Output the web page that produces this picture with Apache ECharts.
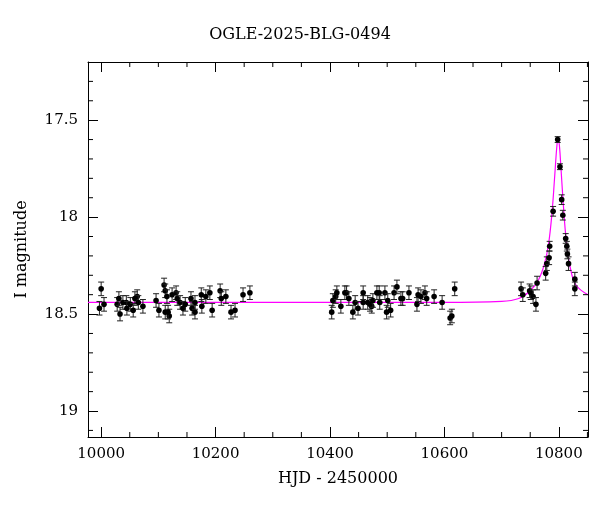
<!DOCTYPE html>
<html><head><meta charset="utf-8">
<script src="https://cdn.jsdelivr.net/npm/echarts@6/dist/echarts.min.js"></script>
<style>html,body{margin:0;background:#fff}#c{width:600px;height:512px}</style>
</head><body><div id="c"></div>
<script>
// observations: HJD-2450000, I mag, error
let obsT = [9997,10000,10005,10028,10031,10033,10038,10044,10045,10051,10056,10059,10063,10065,10073,
  10096,10101,10110,10112,10115,10112,10119,10117,10124,10131,10133,10138,10143,10147,10157,10159,10164,10164,
  10175,10176,10183,10190,10194,10208,10210,10218,10227,10234,10248,10260,
  10403,10405,10410,10412,10419,10426,10429,10433,10440,10444,10449,10458,10458,10466,10470,10473,10475,10482,
  10486,10487,10496,10499,10501,10506,10512,10517,10524,10527,10538,10552,10554,10559,10566,10569,10582,10596,
  10610,10613,10618,
  10734,10737,10749,10751,10755,10760,10762,10777,10779,10783,10784,10790,10798,10802,10805,10807,10812,10814,
  10815,10817,10828,10828]
let obsMag = [18.47,18.37,18.45,18.45,18.42,18.50,18.44,18.44,18.47,18.45,18.48,18.42,18.41,18.44,18.46,
  18.43,18.48,18.35,18.38,18.41,18.49,18.51,18.49,18.40,18.39,18.42,18.44,18.47,18.45,18.42,18.47,18.49,18.44,
  18.40,18.46,18.41,18.39,18.48,18.38,18.42,18.41,18.49,18.48,18.40,18.39,
  18.49,18.43,18.41,18.39,18.46,18.39,18.39,18.42,18.49,18.44,18.47,18.44,18.39,18.44,18.45,18.46,18.43,18.39,
  18.39,18.44,18.39,18.49,18.43,18.48,18.39,18.36,18.42,18.42,18.39,18.45,18.40,18.41,18.39,18.42,18.41,18.44,
  18.52,18.51,18.37,
  18.37,18.40,18.38,18.39,18.41,18.45,18.34,18.29,18.24,18.21,18.15,17.97,17.60,17.74,17.91,17.99,18.11,18.15,
  18.19,18.24,18.32,18.37]
let obsErr = obsMag.map(function(m){ return m < 17.8 ? 0.015 : (m < 18.2 ? 0.025 : 0.035) })

// model curve
let modelT = [9977,10600,10700,10730,10750,10765,10775,10782,10788,10793,10797,10799,10801,10804,10808,10813,10820,10830,10851]
let modelMag = [18.44,18.44,18.435,18.42,18.38,18.32,18.24,18.14,17.98,17.78,17.62,17.60,17.63,17.76,17.94,18.12,18.26,18.35,18.40]

let xTicks = [10000,10200,10400,10600,10800]
let yTicks = [17.5,18,18.5,19]

let pts = obsT.map(function(t,i){ return [t, obsMag[i], obsErr[i]] })
let model = modelT.map(function(t,i){ return [t, modelMag[i]] })

let font = 'DejaVu Serif'
function xAx(show){
  return {type:'value', min:9977, max:10851, position: show ? 'bottom' : 'top',
    axisLine:{onZero:false, lineStyle:{color:'#000'}},
    axisTick:{inside:true, length:10, lineStyle:{color:'#000'}, customValues:xTicks},
    axisLabel:{show:show, color:'#000', fontFamily:font, fontSize:15, margin:10,
      customValues:xTicks, formatter:function(v){ return String(v) }},
    splitLine:{show:false},
    name: show ? 'HJD - 2450000' : '', nameLocation:'middle', nameGap:34,
    nameTextStyle:{color:'#000', fontFamily:font, fontSize:16}}
}
function yAx(show){
  return {type:'value', min:17.2, max:19.134, inverse:true, position: show ? 'left' : 'right',
    axisLine:{onZero:false, lineStyle:{color:'#000'}},
    axisTick:{inside:true, length:10, lineStyle:{color:'#000'}, customValues:yTicks},
    axisLabel:{show:show, color:'#000', fontFamily:font, fontSize:15, margin:10,
      customValues:yTicks, formatter:function(v){ return String(v) }},
    splitLine:{show:false},
    name: show ? 'I magnitude' : '', nameLocation:'middle', nameGap:58,
    nameTextStyle:{color:'#000', fontFamily:font, fontSize:16}}
}
let minorX = [], minorY = []
for (let v = 10000; v <= 10850; v += 50) if (v % 200) minorX.push(v)
for (let v = 17.3; v < 19.14; v += 0.1) { let r = Math.round(v*10)/10; if (Math.round(r*10) % 5) minorY.push(r) }

let option = {
  animation:false,
  title:{text:'OGLE-2025-BLG-0494', left:'center', top:22,
    textStyle:{fontFamily:font, fontSize:16, fontWeight:'normal', color:'#000'}},
  grid:{left:88, right:12, top:62, bottom:75},
  xAxis: [xAx(true), xAx(false)],
  yAxis: [yAx(true), yAx(false)],
  series:[
    {type:'line', data:model, smooth:0.4, symbol:'none', z:1,
      lineStyle:{color:'#ff00ff', width:1.2}},
    {type:'custom', z:2, data:pts, renderItem:function(params, api){
      let x = api.value(0), m = api.value(1), e = api.value(2)
      let p = api.coord([x, m]), a = api.coord([x, m - e]), b = api.coord([x, m + e])
      let st = {stroke:'#222', lineWidth:1}
      return {type:'group', children:[
        {type:'line', shape:{x1:p[0], y1:a[1], x2:p[0], y2:b[1]}, style:st},
        {type:'line', shape:{x1:p[0]-3, y1:a[1], x2:p[0]+3, y2:a[1]}, style:st},
        {type:'line', shape:{x1:p[0]-3, y1:b[1], x2:p[0]+3, y2:b[1]}, style:st},
        {type:'circle', shape:{cx:p[0], cy:p[1], r:2.8}, style:{fill:'#000'}}
      ]}
    }},
    // minor ticks on all four sides
    {type:'custom', z:3, data:minorX.map(function(v){ return [v] }), renderItem:function(params, api){
      let x = api.coord([api.value(0), 17.2])[0]
      let yb = api.coord([0, 19.134])[1], yt = api.coord([0, 17.2])[1]
      let st = {stroke:'#000', lineWidth:1}
      return {type:'group', children:[
        {type:'line', shape:{x1:x, y1:yb, x2:x, y2:yb-5}, style:st},
        {type:'line', shape:{x1:x, y1:yt, x2:x, y2:yt+5}, style:st}]}
    }},
    {type:'custom', z:3, data:minorY.map(function(v){ return [9977, v] }), renderItem:function(params, api){
      let y = api.coord([9977, api.value(1)])[1]
      let xl = api.coord([9977, 18])[0], xr = api.coord([10851, 18])[0]
      let st = {stroke:'#000', lineWidth:1}
      return {type:'group', children:[
        {type:'line', shape:{x1:xl, y1:y, x2:xl+5, y2:y}, style:st},
        {type:'line', shape:{x1:xr, y1:y, x2:xr-5, y2:y}, style:st}]}
    }}
  ]
}
let chart = echarts.init(document.getElementById('c'))
chart.setOption(option)
</script></body></html>
